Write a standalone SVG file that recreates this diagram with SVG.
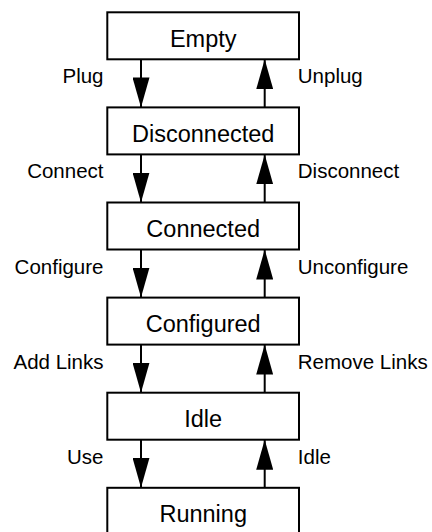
<svg xmlns="http://www.w3.org/2000/svg" width="432" height="532" viewBox="0 0 432 532">
  <style>
    .state rect { fill: #ffffff; stroke: #000000; stroke-width: 2; }
    .state text { font-family: "Liberation Sans", Arial, sans-serif; font-size: 23.5px; fill: #000000; text-anchor: middle; }
    .edge line { stroke: #000000; stroke-width: 2; marker-end: url(#head); }
    .label { font-family: "Liberation Sans", Arial, sans-serif; font-size: 20.5px; fill: #000000; }
    .left { text-anchor: end; }
    .right { text-anchor: start; }
  </style>
  <defs>
    <marker id="head" markerUnits="userSpaceOnUse" markerWidth="30" markerHeight="17" refX="30" refY="8.5" orient="auto" viewBox="0 0 30 17">
      <path d="M0,0 L30,8.5 L0,17 Z" fill="#000000"/>
    </marker>
  </defs>
  <rect width="432" height="532" fill="#ffffff"/>

  <!-- states -->
  <g id="empty" class="state">
    <rect x="107.3" y="12.3" width="191.7" height="47"/>
    <text x="203.2" y="46.8">Empty</text>
  </g>
  <g id="disconnected" class="state">
    <rect x="107.3" y="107.4" width="191.7" height="47"/>
    <text x="203.2" y="141.9">Disconnected</text>
  </g>
  <g id="connected" class="state">
    <rect x="107.3" y="202.5" width="191.7" height="47"/>
    <text x="203.2" y="237">Connected</text>
  </g>
  <g id="configured" class="state">
    <rect x="107.3" y="297.6" width="191.7" height="47"/>
    <text x="203.2" y="332.1">Configured</text>
  </g>
  <g id="idle" class="state">
    <rect x="107.3" y="392.7" width="191.7" height="47"/>
    <text x="203.2" y="427.2">Idle</text>
  </g>
  <g id="running" class="state">
    <rect x="107.3" y="487.8" width="191.7" height="47"/>
    <text x="203.2" y="522.3">Running</text>
  </g>

  <!-- transitions: downward on the left, upward on the right -->
  <g id="transitions" class="edge">
    <line x1="141" y1="59.3" x2="141" y2="107.4"/>
    <line x1="264.7" y1="107.4" x2="264.7" y2="59.3"/>
    <line x1="141" y1="154.4" x2="141" y2="202.5"/>
    <line x1="264.7" y1="202.5" x2="264.7" y2="154.4"/>
    <line x1="141" y1="249.5" x2="141" y2="297.6"/>
    <line x1="264.7" y1="297.6" x2="264.7" y2="249.5"/>
    <line x1="141" y1="344.6" x2="141" y2="392.7"/>
    <line x1="264.7" y1="392.7" x2="264.7" y2="344.6"/>
    <line x1="141" y1="439.7" x2="141" y2="487.8"/>
    <line x1="264.7" y1="487.8" x2="264.7" y2="439.7"/>
  </g>

  <!-- transition labels -->
  <g id="labels">
    <text class="label left" x="103.5" y="83.3">Plug</text>
    <text class="label right" x="297.8" y="83.3">Unplug</text>
    <text class="label left" x="103.5" y="178.4">Connect</text>
    <text class="label right" x="297.8" y="178.4">Disconnect</text>
    <text class="label left" x="103.5" y="273.5">Configure</text>
    <text class="label right" x="297.8" y="273.5">Unconfigure</text>
    <text class="label left" x="103.5" y="368.6">Add Links</text>
    <text class="label right" x="297.8" y="368.6">Remove Links</text>
    <text class="label left" x="103.5" y="463.7">Use</text>
    <text class="label right" x="297.8" y="463.7">Idle</text>
  </g>
</svg>
